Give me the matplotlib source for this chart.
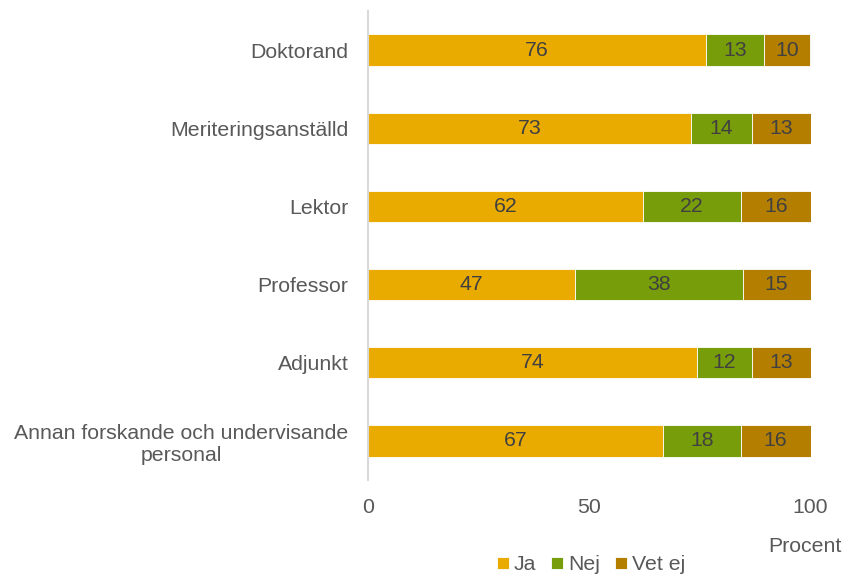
import matplotlib.pyplot as plt
import numpy as np

plt.rcParams['font.family'] = ['Liberation Sans', 'DejaVu Sans']

categories = ["Doktorand", "Meriteringsanställd", "Lektor", "Professor", "Adjunkt",
              "Annan forskande och undervisande\npersonal"]
ja = [76.3, 73.0, 62.2, 46.8, 74.4, 66.6]
nej = [13.2, 13.7, 22.1, 37.9, 12.3, 17.6]
vetej = [10.4, 13.3, 15.7, 15.3, 13.3, 15.8]
series = [("Ja", ja, "#EAAB00"), ("Nej", nej, "#789D0A"), ("Vet ej", vetej, "#B47F00")]

FS = 15.3
fig = plt.figure(figsize=(8.55, 5.76), dpi=100)
ax = fig.add_axes([368/855, 1-480/576, (810.5-368)/855, (480-11)/576])

y = np.arange(len(categories))
left = np.zeros(len(categories))
for name, vals, col in series:
    vals = np.array(vals, dtype=float)
    ax.barh(y, vals, left=left, height=0.4, color=col, label=name,
            edgecolor='white', linewidth=0.6)
    for yi, l, v in zip(y, left, vals):
        ax.text(l + v/2, yi, f"{v:.0f}", ha='center', va='center',
                fontsize=FS, color='#404040')
    left += vals

ax.set_xlim(0, 100)
ax.set_ylim(len(categories)-0.5, -0.5)
ax.set_yticks(y)
ax.set_yticklabels(categories, fontsize=FS, color='#595959')
for lab in ax.get_yticklabels():
    lab.set_multialignment('center')
ax.set_xticks([0, 50, 100])
ax.set_xticklabels(['0', '50', '100'], fontsize=FS, color='#595959')
ax.tick_params(axis='both', length=0)
ax.tick_params(axis='x', pad=13)
ax.tick_params(axis='y', pad=14)
for s in ['top', 'right', 'bottom']:
    ax.spines[s].set_visible(False)
ax.spines['left'].set_color('#d9d9d9')
ax.spines['left'].set_linewidth(1.5)

fig.text(805/855, 1-546/576, "Procent", ha='center', va='center', fontsize=FS, color='#595959')
fig.legend(loc='center', bbox_to_anchor=(591/855, 1-565/576), ncol=3, frameon=False,
           fontsize=FS, handlelength=0.55, handleheight=0.55, handletextpad=0.25,
           columnspacing=0.7, labelcolor='#595959', borderpad=0.1)

fig.savefig("out.png", dpi=100)
